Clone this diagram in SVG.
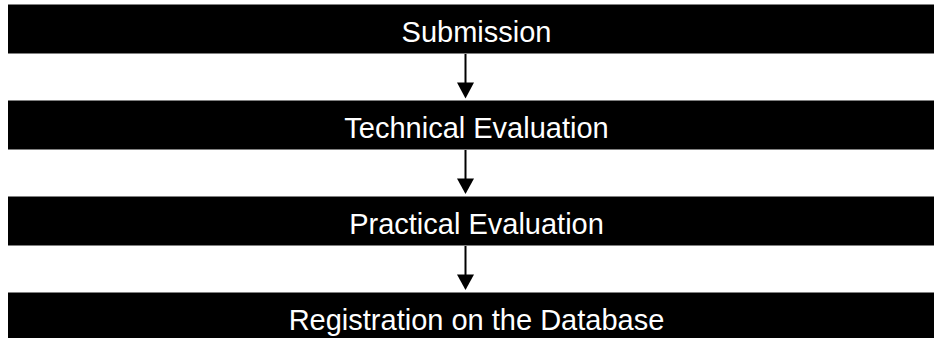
<svg xmlns="http://www.w3.org/2000/svg" width="934" height="338" viewBox="0 0 934 338">
<style>
.box{fill:#000}
.edge{stroke:#808080;stroke-width:1}
.lbl{fill:#fff;font-family:"Liberation Sans",Arial,sans-serif;font-size:29px;text-anchor:middle}
.conn{stroke:#000;stroke-width:2;fill:none}
.head{fill:#000}
</style>
<rect width="934" height="338" fill="#fff"/>
<g id="submission">
<rect class="box" x="8" y="4" width="930" height="50"/>
<line class="edge" x1="8" y1="4.5" x2="934" y2="4.5"/>
<line class="edge" x1="8" y1="53.5" x2="934" y2="53.5"/>
<text class="lbl" x="476.5" y="41.5">Submission</text>
</g>
<g id="technical">
<rect class="box" x="8" y="100" width="930" height="50"/>
<line class="edge" x1="8" y1="100.5" x2="934" y2="100.5"/>
<line class="edge" x1="8" y1="149.5" x2="934" y2="149.5"/>
<text class="lbl" x="476.5" y="137.5">Technical Evaluation</text>
</g>
<g id="practical">
<rect class="box" x="8" y="196" width="930" height="50"/>
<line class="edge" x1="8" y1="196.5" x2="934" y2="196.5"/>
<line class="edge" x1="8" y1="245.5" x2="934" y2="245.5"/>
<text class="lbl" x="476.5" y="233.5">Practical Evaluation</text>
</g>
<g id="registration">
<rect class="box" x="8" y="292" width="930" height="50"/>
<line class="edge" x1="8" y1="292.5" x2="934" y2="292.5"/>
<text class="lbl" x="476.5" y="329.5">Registration on the Database</text>
</g>
<g id="connectors">
<line class="conn" x1="465.5" y1="54" x2="465.5" y2="84"/>
<polygon class="head" points="457,82.5 474,82.5 465.5,98.5"/>
<line class="conn" x1="465.5" y1="150" x2="465.5" y2="180"/>
<polygon class="head" points="457,178.5 474,178.5 465.5,194"/>
<line class="conn" x1="465.5" y1="246" x2="465.5" y2="276"/>
<polygon class="head" points="457,274.5 474,274.5 465.5,290"/>
</g>
</svg>
